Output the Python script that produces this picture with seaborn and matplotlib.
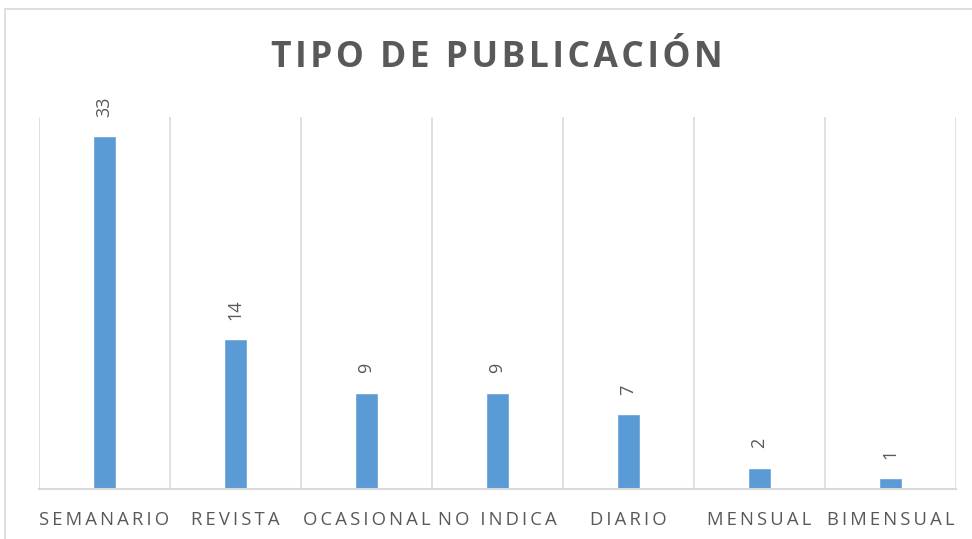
import matplotlib
matplotlib.use("Agg")
import matplotlib.pyplot as plt
import seaborn as sns
import pandas as pd
from matplotlib.patches import Rectangle

categorias = ["SEMANARIO", "REVISTA", "OCASIONAL", "NO INDICA", "DIARIO", "MENSUAL", "BIMENSUAL"]
valores = [33, 14, 9, 9, 7, 2, 1]
titulo = "TIPO DE PUBLICACIÓN"

sns.set_theme(style="white")
plt.rcParams["font.family"] = ["Open Sans", "DejaVu Sans"]

GRIS = "#595959"
LINEA = "#D9D9D9"
AZUL = "#5B9BD5"

def espaciado(texto, sep="\u2009"):
    # letter spacing with narrow spaces between characters
    return sep.join(texto)

df = pd.DataFrame({"tipo": categorias, "n": valores})

fig = plt.figure(figsize=(9.72, 5.39), dpi=100)
ax = fig.add_axes([0.040, 0.0928, 0.9435, 0.690])

sns.barplot(data=df, x="tipo", y="n", color=AZUL, width=0.18, saturation=1, ax=ax)

ax.set_xlim(-0.5, len(categorias) - 0.5)
ax.set_ylim(0, 34.8)

# vertical separators between categories
for b in range(len(categorias) + 1):
    ax.axvline(b - 0.5, color=LINEA, lw=1.1, zorder=0)

for s in ["top", "right", "left"]:
    ax.spines[s].set_visible(False)
ax.spines["bottom"].set_color(LINEA)
ax.spines["bottom"].set_linewidth(1.5)

ax.set_yticks([])
ax.set_xlabel("")
ax.set_ylabel("")
ax.set_xticks(range(len(categorias)))
ax.set_xticklabels([espaciado(c) for c in categorias], fontsize=13.3, color=GRIS)
ax.tick_params(axis="x", length=0, pad=16)

# value labels above bars
for i, v in enumerate(valores):
    ax.annotate(str(v), (i, v), xytext=(0, 14), textcoords="offset points",
                rotation=90, ha="center", va="bottom", fontsize=13, color=GRIS)

fig.text(0.511, 0.893, espaciado(titulo, "\u200a"), ha="center", va="center",
         fontsize=25.5, fontweight="bold", color=GRIS)

# outer chart frame
fig.patches.append(Rectangle((5 / 972, -0.05), 1.2, (539 - 9) / 539 + 0.05,
                             transform=fig.transFigure, fill=False,
                             edgecolor=LINEA, lw=1.2))

fig.savefig("out.png", dpi=100)
